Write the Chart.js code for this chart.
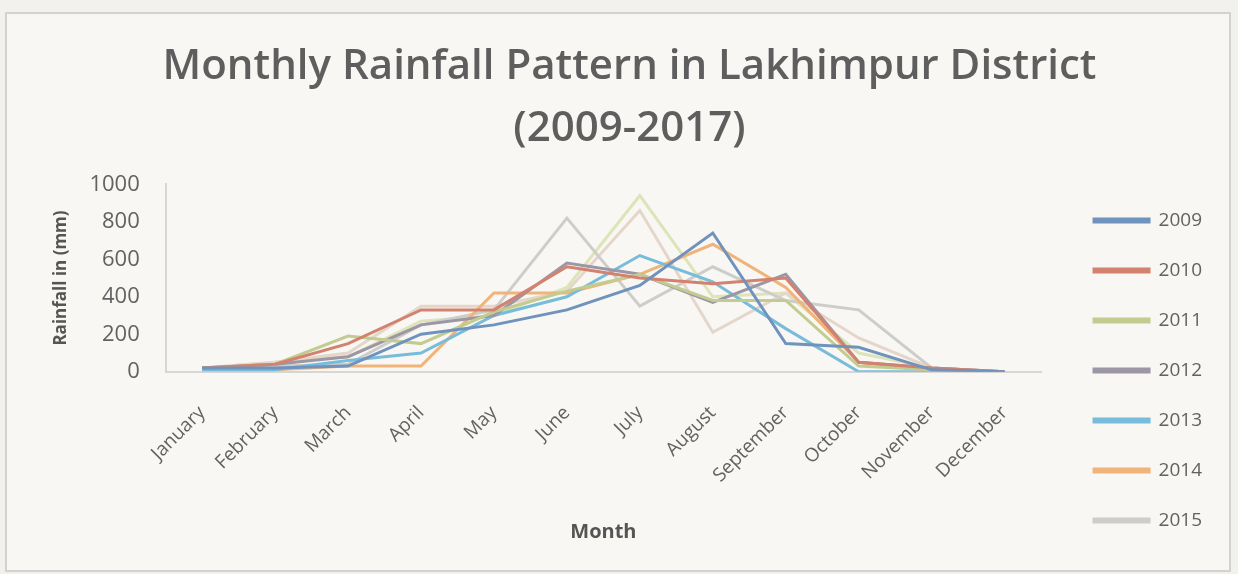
<!DOCTYPE html>
<html>
<head>
<meta charset="utf-8">
<script src="https://cdn.jsdelivr.net/npm/chart.js@4"></script>
<style>
  body { margin: 0; background: #f2f1ed; }
  #box {
    position: absolute; left: 5px; top: 12px;
    width: 1222px; height: 556px;
    border: 2px solid #d2d2d0; background: #f8f7f3;
  }
</style>
</head>
<body>
<div id="box"><canvas id="rainChart"></canvas></div>
<script>
// --- DATA ---
const months = ["January", "February", "March", "April", "May", "June",
  "July", "August", "September", "October", "November", "December"];
const years = ["2009", "2010", "2011", "2012", "2013", "2014", "2015", "2016", "2017"];
const shownYears = ["2009", "2010", "2011", "2012", "2013", "2014", "2015"]; // legend is cut off after 2015

const rain2009 = [20, 20, 30, 200, 250, 330, 460, 740, 150, 130, 10, 0];
const rain2010 = [20, 40, 150, 330, 330, 560, 500, 470, 500, 50, 20, 0];
const rain2011 = [20, 40, 190, 150, 320, 430, 520, 380, 380, 30, 10, 0];
const rain2012 = [20, 40, 80, 250, 300, 580, 520, 370, 520, 50, 20, 0];
const rain2013 = [10, 10, 60, 100, 300, 400, 620, 480, 230, 0, 0, 0];
const rain2014 = [10, 10, 30, 30, 420, 420, 520, 680, 450, 50, 10, 0];
const rain2015 = [20, 30, 40, 250, 330, 820, 350, 560, 380, 330, 20, 0];
const rain2016 = [20, 50, 100, 350, 350, 430, 860, 210, 420, 180, 20, 0];
const rain2017 = [20, 50, 80, 270, 300, 450, 940, 400, 420, 100, 20, 0];

const yTicks = [0, 200, 400, 600, 800, 1000];

const series = [rain2009, rain2010, rain2011, rain2012, rain2013, rain2014, rain2015, rain2016, rain2017];
const colors = ["#6f93bd", "#d2826f", "#c2cc90", "#9d96a4", "#78bcdb", "#f0b47a", "#cdcdca", "#e5d6cc", "#dde4b8"];

const font = "'Open Sans', sans-serif";
const grey = "#626262";

const ctx = document.getElementById("rainChart").getContext("2d");
new Chart(ctx, {
  type: "line",
  data: {
    labels: months,
    datasets: years.map((y, i) => ({
      label: y,
      data: series[i],
      borderColor: colors[i],
      backgroundColor: colors[i],
      borderWidth: 3,
      pointRadius: 0,
      tension: 0,
    })),
  },
  options: {
    responsive: true,
    maintainAspectRatio: false,
    animation: false,
    layout: { padding: { left: 40, right: 17, top: 22, bottom: 9 } },
    plugins: {
      title: {
        display: true,
        text: ["Monthly Rainfall Pattern in Lakhimpur District", "(2009-2017)"],
        color: "#5e5e5e",
        font: { family: font, size: 42, weight: "600", lineHeight: 1.48 },
        padding: { top: 0, bottom: 24 },
      },
      legend: {
        position: "right",
        align: "end",
        labels: {
          color: grey,
          font: { family: font, size: 19 },
          boxWidth: 55,
          boxHeight: 3,
          padding: 31,
          filter: (item) => shownYears.includes(item.text),
        },
      },
      tooltip: { enabled: false },
    },
    scales: {
      x: {
        offset: true,
        grid: { display: false },
        border: { color: "#d6d6d4", width: 2 },
        ticks: {
          color: grey,
          font: { family: font, size: 19 },
          minRotation: 45,
          maxRotation: 45,
          padding: 22,
        },
        title: {
          display: true,
          text: "Month",
          color: "#555",
          font: { family: font, size: 20, weight: "bold" },
          padding: { top: 11, bottom: 17 },
        },
      },
      y: {
        min: 0,
        max: 1000,
        afterBuildTicks: (axis) => { axis.ticks = yTicks.map((v) => ({ value: v })); },
        grid: { display: false },
        border: { color: "#d6d6d4", width: 2 },
        ticks: {
          color: grey,
          font: { family: font, size: 22 },
          padding: 18,
          callback: (v) => String(v),
        },
        title: {
          display: true,
          text: "Rainfall in (mm)",
          color: "#555",
          font: { family: font, size: 17, weight: "bold" },
          padding: { bottom: 0 },
        },
      },
      // empty right-hand axis: only keeps a gap between the plot and the legend
      gap: {
        position: "right",
        grid: { display: false },
        border: { display: false },
        ticks: { display: false },
        afterFit: (axis) => { axis.width = 22; },
      },
    },
  },
});
</script>
</body>
</html>
